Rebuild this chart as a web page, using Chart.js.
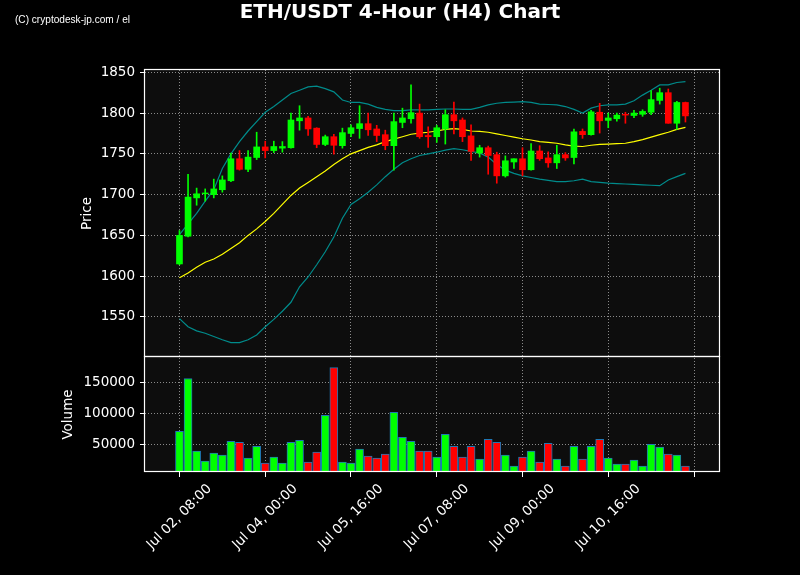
<!DOCTYPE html>
<html><head><meta charset="utf-8">
<script src="https://cdn.jsdelivr.net/npm/chart.js@4.4.1/dist/chart.umd.min.js"></script>
<style>
html,body{margin:0;padding:0;background:#000;}
#wrap{position:relative;width:800px;height:575px;overflow:hidden;}
#wm{position:absolute;left:15px;top:13px;color:#fff;font:11px 'Liberation Sans Narrow','Liberation Sans',Arial,sans-serif;transform-origin:0 0;white-space:nowrap;}
#ttl{position:absolute;left:0;top:-1px;width:800px;text-align:center;color:#fff;font:bold 20px 'DejaVu Sans',sans-serif;line-height:24px;white-space:nowrap;}
</style></head><body>
<div id="wrap"><canvas id="c" width="800" height="575"></canvas><div id="ttl">ETH/USDT 4-Hour (H4) Chart</div><div id="wm">(C) cryptodesk-jp.com / el</div></div>
<script>
// ---- data (4-hour candles from Jul 02 08:00) ----
const openP  = [1615,1649,1696,1701,1700,1706,1717,1744,1731,1745.5,1758.5,1754,1757,1757.5,1790.5,1794,1781.5,1761.5,1771,1760,1775,1781,1787,1780.5,1773.5,1760,1788.5,1793,1800,1772.5,1771,1780.5,1798,1791.5,1772,1751,1757.5,1749,1723,1740,1744,1730.5,1753.5,1745,1739,1749,1745.5,1777.5,1773.5,1801,1791,1793,1798.5,1797,1798.5,1801,1815.5,1825,1787.5,1813];
const highP  = [1656,1725,1708,1707,1719,1723,1751,1754,1754,1776.5,1765.5,1765.5,1765,1800,1809,1796,1782,1773,1774,1781.5,1785.5,1809,1800,1785,1779,1800,1806,1834.5,1811,1783,1785,1804,1813.5,1794,1785.5,1760.5,1759.5,1752,1747.5,1744,1757.5,1762.5,1760,1752.5,1760.5,1751.5,1780.5,1780.5,1803.5,1812,1800,1800,1801,1803.5,1804,1827.5,1830.5,1829.5,1814.5,1813.5];
const lowP   = [1614,1648,1687,1692,1696,1703,1716,1730,1728,1743,1745,1751.5,1752,1757,1779,1772.5,1757.5,1760,1749.5,1757,1771,1769,1772.5,1765,1755,1730,1782,1787.5,1769,1758,1764,1762,1774.5,1765,1742,1746,1725,1714,1721.5,1732,1723,1730,1742,1733.5,1732,1742,1737.5,1769,1773,1775.5,1782,1790,1787.5,1794.5,1796,1798,1811,1787.5,1780,1789];
const closeP = [1650,1697,1701,1702,1707,1718,1744,1731,1746,1758.5,1754,1759,1759,1791.5,1794,1780.5,1761.5,1771,1760.5,1776,1782,1787,1779.5,1772.5,1760,1789.5,1794,1800.5,1771,1771,1782,1798,1790.5,1771,1753,1757.5,1748,1723,1741.5,1744,1730.5,1753.5,1744,1739,1749,1745,1777,1773.5,1801.5,1790.5,1794,1797.5,1797.5,1800,1802,1816.5,1825,1787.5,1813,1796.5];
const volumes = [70900,157000,38500,22200,35200,32000,54700,53000,27000,46500,19000,28700,19000,53000,56300,20600,36800,96900,174800,20600,19000,41700,30300,27000,33600,101800,61200,54700,38500,38500,28700,66000,46500,28700,46500,25400,57900,53000,32000,14100,28700,38500,20600,51400,25400,14100,46500,25400,46500,57900,27000,17400,17400,23800,14100,49800,45000,33600,32000,14100];
const smaLine   = [1598,1604,1611,1617,1621,1627,1634,1641,1650,1658,1667,1677,1688,1699,1708,1715,1722,1729,1737,1744,1750,1754,1758,1761,1765,1768,1771,1774,1775.5,1776.5,1778,1780,1781,1780,1778,1777.5,1776.5,1774.5,1772.5,1770.5,1768.5,1767,1765,1764,1763,1761,1759.5,1759,1760.5,1761.5,1762,1762.5,1763,1765,1767.5,1770.5,1773.5,1776.5,1780,1782.5];
const upperBand = [1651,1664,1677,1692,1706,1732,1750,1765,1778,1789.5,1801,1808,1816,1824,1828,1832,1833,1830,1826,1816,1813,1813,1811,1807,1804.5,1803,1803,1804,1804,1804,1804.5,1805,1805,1804.5,1804.5,1807,1810,1812,1813,1813.5,1814,1813,1811,1810.5,1810,1808,1804.5,1800,1806,1809,1810,1810,1811,1815,1822,1828,1834.5,1834.5,1837.5,1838.5];
const lowerBand = [1548,1538,1533,1530,1526,1522,1518.5,1518.5,1522,1528,1538,1547,1557,1568,1587,1599,1614,1630,1648,1671,1688,1695,1703,1712,1722,1731,1739,1744,1748,1750,1752,1754.5,1756.5,1755,1753,1751,1746,1737,1730,1726,1723,1721,1719,1717.5,1716,1716,1717,1719,1716,1715,1714,1713.5,1713,1712.5,1712,1711.5,1711,1718,1722,1726];
const xTickPos    = [0,10,20,30,40,50,60];
const xTickLabels = ['Jul 02, 08:00','Jul 04, 00:00','Jul 05, 16:00','Jul 07, 08:00','Jul 09, 00:00','Jul 10, 16:00',''];
const priceTicks  = [1550,1600,1650,1700,1750,1800,1850];
const volumeTicks = [50000,100000,150000];

// ---- derived ----
const idx = openP.map((_, i) => i);
const GREEN = '#00ff00', RED = '#ff0000';
const candleColors = idx.map(i => closeP[i] >= openP[i] ? GREEN : RED);
const FONT = 'DejaVu Sans';
const GRID = '#8a8a8a';

const framePlugin = {
  id: 'frame',
  beforeDraw(chart) {
    const {ctx, chartArea: a} = chart;
    ctx.save();
    ctx.fillStyle = '#0d0d0d';
    ctx.fillRect(a.left, a.top, a.right - a.left, a.bottom - a.top);
    ctx.restore();
  },
  afterDraw(chart) {
    const {ctx, chartArea: a} = chart;
    ctx.save();
    ctx.strokeStyle = '#ffffff';
    ctx.lineWidth = 1.2;
    ['y', 'yv'].forEach(id => {
      const s = chart.scales[id];
      ctx.strokeRect(Math.round(a.left) - 0.5, Math.round(s.top) - 0.5, Math.round(a.right - a.left), Math.round(s.bottom - s.top));
    });
    ctx.restore();
  }
};

const tickFont = {family: FONT, size: 13.5};

new Chart(document.getElementById('c'), {
  type: 'bar',
  plugins: [framePlugin],
  data: {
    datasets: [
      {type: 'line', label: 'SMA', data: idx.map(i => ({x: i, y: smaLine[i]})), borderColor: '#ffff00', borderWidth: 1.2, pointRadius: 0, yAxisID: 'y', order: 6},
      {type: 'line', label: 'Upper', data: idx.map(i => ({x: i, y: upperBand[i]})), borderColor: '#008b8b', borderWidth: 1.2, pointRadius: 0, yAxisID: 'y', order: 6},
      {type: 'line', label: 'Lower', data: idx.map(i => ({x: i, y: lowerBand[i]})), borderColor: '#008b8b', borderWidth: 1.2, pointRadius: 0, yAxisID: 'y', order: 6},
      {label: 'Wick', data: idx.map(i => ({x: i, y: [lowP[i], highP[i]]})), backgroundColor: candleColors, barThickness: 1, grouped: false, yAxisID: 'y', order: 5},
      {label: 'Body', data: idx.map(i => ({x: i, y: [openP[i], closeP[i]]})), backgroundColor: candleColors, barThickness: 6, grouped: false, yAxisID: 'y', order: 4},
      {label: 'Volume', data: idx.map(i => ({x: i, y: volumes[i]})), backgroundColor: candleColors, borderColor: '#1f77b4', borderWidth: 1, borderSkipped: false, barThickness: 8, grouped: false, yAxisID: 'yv', order: 3}
    ]
  },
  options: {
    responsive: false,
    animation: false,
    layout: {padding: {left: 0, right: 80, top: 70, bottom: 0}},
    plugins: {
      legend: {display: false},
      tooltip: {enabled: false},
      title: {display: false}
    },
    scales: {
      x: {
        type: 'linear', min: -4.02, max: 63.03, offset: false,
        afterBuildTicks: s => { s.ticks = xTickPos.map(v => ({value: v})); },
        afterFit: s => { s.height = 103; },
        ticks: {color: '#ffffff', font: tickFont, autoSkip: false, maxRotation: 45, minRotation: 45, padding: 4, labelOffset: 30,
                callback: v => { const k = xTickPos.indexOf(v); return k >= 0 ? xTickLabels[k] : ''; }},
        grid: {color: GRID, offset: false, tickColor: '#ffffff', tickLength: 5, tickBorderDash: [], tickWidth: 1},
        border: {display: false, dash: [1, 2]}
      },
      yv: {
        type: 'linear', position: 'left', stack: 'panels', stackWeight: 115, min: 4500, max: 192000,
        afterBuildTicks: s => { s.ticks = volumeTicks.map(v => ({value: v})); },
        afterFit: s => { s.width = 145; },
        ticks: {color: '#ffffff', font: tickFont, padding: 5, callback: v => String(v)},
        grid: {color: GRID, tickColor: '#ffffff', tickLength: 5, tickBorderDash: [], tickWidth: 1},
        border: {display: false, dash: [1, 2]},
        title: {display: true, text: 'Volume', color: '#ffffff', font: {family: FONT, size: 13.5}, padding: {top: 60, bottom: 0}}
      },
      y: {
        type: 'linear', position: 'left', stack: 'panels', stackWeight: 287, min: 1500.9, max: 1852.8,
        afterBuildTicks: s => { s.ticks = priceTicks.map(v => ({value: v})); },
        afterFit: s => { s.width = 145; },
        ticks: {color: '#ffffff', font: tickFont, padding: 5, callback: v => String(v)},
        grid: {color: GRID, tickColor: '#ffffff', tickLength: 5, tickBorderDash: [], tickWidth: 1},
        border: {display: false, dash: [1, 2]},
        title: {display: true, text: 'Price', color: '#ffffff', font: {family: FONT, size: 13.5}, padding: {top: 79, bottom: 0}}
      }
    }
  }
});

// fit watermark width to the reference
const wm = document.getElementById('wm');
const w = wm.getBoundingClientRect().width;
wm.style.transform = 'scaleX(' + (115 / w) + ')';
</script>
</body></html>
